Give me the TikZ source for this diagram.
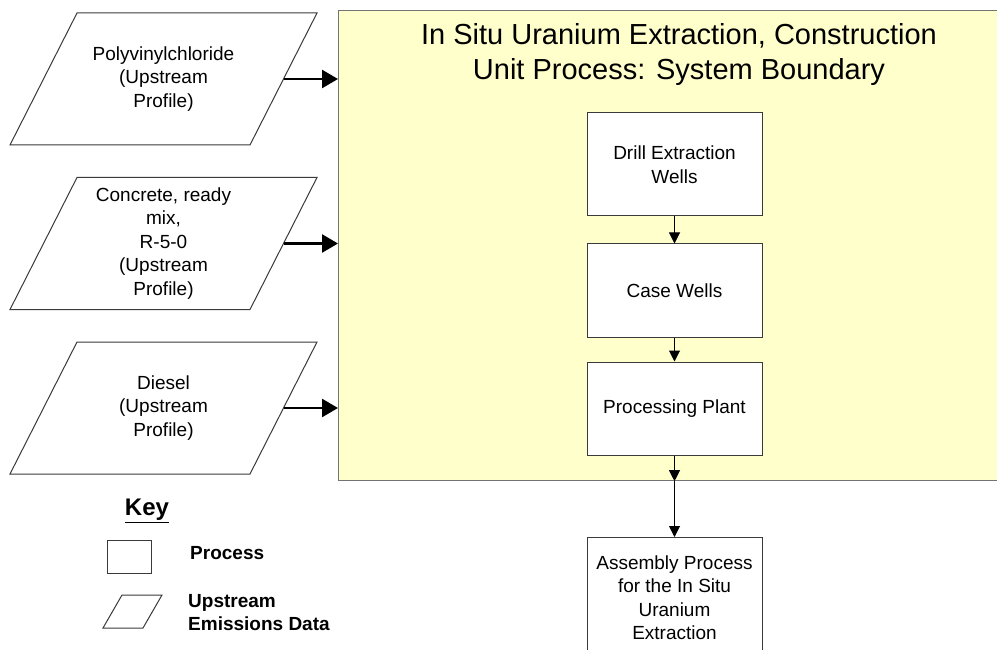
\documentclass[tikz,border=0pt]{standalone}
\usepackage{fontspec}
\setmainfont{Liberation Sans}
\usetikzlibrary{arrows.meta}
\definecolor{bndY}{HTML}{FFFFCC}
\definecolor{lnG}{HTML}{3A3A3A}
% upstream data box: name, centre x, centre y, text
\newcommand\upstrm[4]{%
  \draw[upline] (#2-153.5,#3+66) -- ++(67,-132) -- ++(240,0) -- ++(-67,132) -- cycle;
  \node[txt] (#1) at (#2,#3) {#4};
  \coordinate (#1-e) at (#2+120,#3);}

\begin{document}
\begin{tikzpicture}[x=1pt,y=-1pt,
  txt/.style={font=\fontsize{19}{23.5}\selectfont,align=center},
  upline/.style={draw=lnG,fill=white,line width=1pt},
  proc/.style={txt,draw=lnG,fill=white,line width=1pt,minimum width=175,minimum height=93,inner sep=2pt},
  bnd/.style={fill=bndY,draw=black!55,line width=1.2pt,rectangle},
  feed/.style={line width=2.5pt,-{Triangle[length=16pt,width=18pt]}},
  flow/.style={line width=1pt,-{Triangle[length=11pt,width=11pt]}},
  keylbl/.style={font=\fontsize{19}{23}\selectfont\bfseries,align=left,anchor=west,inner sep=0pt}]
\useasboundingbox (0,0) rectangle (997,650);
% system boundary
\node[bnd,anchor=north west,minimum width=682,minimum height=470] (bound) at (338,10) {};
\node[anchor=north,font=\fontsize{29}{35}\selectfont,align=center] (ttl) at (679,20) {In Situ Uranium Extraction, Construction\\Unit Process: System Boundary};
% upstream inputs
\upstrm{pvc}{163.5}{79}{Polyvinylchloride\\(Upstream\\Profile)}
\upstrm{conc}{163.5}{243.5}{Concrete, ready\\mix,\\R-5-0\\(Upstream\\Profile)}
\upstrm{dsl}{163.5}{408}{Diesel\\(Upstream\\Profile)}
\foreach \n in {pvc,conc,dsl}
  \draw[feed] (\n-e) -- (\n-e -| bound.west);
% process chain
\node[proc,minimum height=103] (drill) at (674.5,164.5) {Drill Extraction\\Wells};
\node[proc] (case) at (674.5,290.5) {Case Wells};
\node[proc] (plant) at (674.5,408.5) {Processing Plant};
\coordinate (out) at (plant.south |- bound.south);
\node[proc,anchor=north,minimum height=120] (asm) at (674.5,537) {Assembly Process\\for the In Situ\\Uranium\\Extraction};
\draw[flow] (drill) -- (case);
\draw[flow] (case) -- (plant);
\draw[flow] (plant) -- (out);
\draw[flow] (out) -- (asm);
% key
\node[font=\fontsize{24}{28}\selectfont\bfseries] (key) at (147,511) {\underline{Key}};
\node[draw=lnG,line width=1pt,minimum width=44,minimum height=33,inner sep=0pt] (kproc) at (129,556.5) {};
\node[keylbl] (kproct) at (190,553) {Process};
\draw[upline] (103,628) -- (122,595) -- (162,595) -- (143,628) -- cycle;
\node[keylbl] (kupt) at (188,613) {Upstream\\Emissions Data};
\end{tikzpicture}
\end{document}
